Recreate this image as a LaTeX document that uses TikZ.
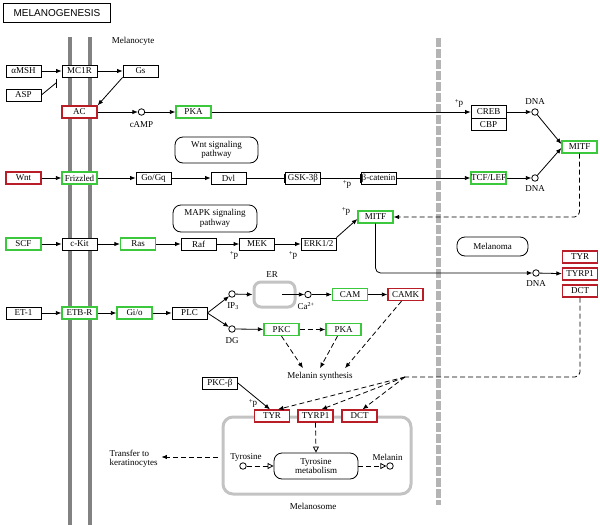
\documentclass[tikz,border=0pt]{standalone}
\usepackage{fontspec}
\setmainfont{Liberation Serif}
\newfontfamily\titlefont{Liberation Sans}
\usetikzlibrary{arrows.meta, positioning}
\definecolor{hitgreen}{RGB}{60,200,60}
\definecolor{hitred}{RGB}{185,30,40}
\definecolor{memgray}{RGB}{130,130,130}
\definecolor{nucgray}{RGB}{180,180,180}
\definecolor{boxgray}{RGB}{195,195,195}
\newcommand{\plusp}{\raisebox{2pt}{\fontsize{7}{7}\selectfont+}p}

\begin{document}
\begin{tikzpicture}[x=1pt, y=-1pt, line width=0.8pt, font=\fontsize{9}{9.5}\selectfont,
  >={Latex[length=5.5pt,width=4.5pt]}]
\tikzset{
  gene/.style={draw, fill=white, minimum width=35pt, minimum height=12pt, inner sep=0pt},
  ggene/.style={gene, draw=hitgreen, line width=1.3pt},
  rgene/.style={gene, draw=hitred, line width=1.3pt},
  pathway/.style={draw, rounded corners=8pt, align=center, inner sep=0pt},
  cpd/.style={circle, draw, fill=white, inner sep=0pt, minimum size=6.5pt},
  dashline/.style={dash pattern=on 5pt off 3pt},
  inhib/.style={-{Bar[width=9pt]}},
  opentip/.style={-{Triangle[open,length=6pt,width=6pt]}}
}

\useasboundingbox (0,0) rectangle (600,525);

\draw[memgray, line width=4pt] (70,37) -- (70,525);
\draw[memgray, line width=4pt] (90,37) -- (90,525);
\draw[nucgray, line width=5pt, dash pattern=on 9pt off 2pt] (438,38) -- (438,505);
\draw[boxgray, line width=3pt, rounded corners=10pt] (223,417) rectangle (411,494);

\node[draw, line width=1.6pt, minimum width=107pt, minimum height=19pt, inner sep=0pt,
  font=\titlefont\fontsize{10}{10}\selectfont] (title) at (57,13) {MELANOGENESIS};
\node (melanocyte) at (133,41) {Melanocyte};

\node[gene] (amsh) at (23.5,71) {αMSH};
\node[gene] (mc1r) at (79.5,71) {MC1R};
\node[gene] (gs) at (140.5,71) {Gs};
\node[gene] (asp) at (23.5,95) {ASP};
\node[rgene] (ac) at (79.5,112) {AC};
\node[cpd] (camp) at (141.5,112) {};
\node (camplbl) at (141.5,125) {cAMP};
\node[ggene] (pka) at (193.5,112) {PKA};
\node[gene, minimum height=12.5pt] (creb) at (488.5,112) {CREB};
\node[gene, minimum height=12.5pt] (cbp) at (488.5,124.5) {CBP};
\node (pcreb) at (459,103) {\plusp};
\node[cpd] (dna1) at (535,112) {};
\node (dna1lbl) at (535,102) {DNA};
\node[ggene] (mitfn) at (579.5,147) {MITF};

\node[pathway, minimum width=83pt, minimum height=26pt] (wntpath) at (216.5,150) {Wnt signaling\\pathway};
\node[rgene] (wnt) at (23.5,178) {Wnt};
\node[ggene] (fzd) at (79.5,178) {Frizzled};
\node[gene] (gogq) at (153.5,178) {Go/Gq};
\node[gene] (dvl) at (228.5,178) {Dvl};
\node[gene] (gsk) at (303,178) {GSK-3β};
\node (pbcat) at (347,184) {\plusp};
\node[gene] (bcat) at (378.5,178) {β-catenin};
\node[ggene] (tcf) at (488.5,178) {TCF/LEF};
\node[cpd] (dna2) at (535,178) {};
\node (dna2lbl) at (535,189) {DNA};

\node[pathway, minimum width=84pt, minimum height=27pt] (mapkpath) at (215,218.5) {MAPK signaling\\pathway};
\node[ggene] (scf) at (23.5,244) {SCF};
\node[gene] (ckit) at (79.5,244) {c-Kit};
\node[ggene] (ras) at (138,244) {Ras};
\node[gene] (raf) at (198.5,244) {Raf};
\node[gene] (mek) at (257,244) {MEK};
\node[gene] (erk) at (318.5,244) {ERK1/2};
\node (pmek) at (234,255) {\plusp};
\node (perk) at (293,255) {\plusp};
\node[ggene] (mitfc) at (375.5,217) {MITF};
\node (pmitf) at (346,211) {\plusp};
\node[pathway, minimum width=71pt, minimum height=19pt] (melanoma) at (492.5,246.5) {Melanoma};
\node[cpd] (dna3) at (536,273) {};
\node (dna3lbl) at (536,284) {DNA};
\node[rgene] (tyrn) at (580,257) {TYR};
\node[rgene] (tyrp1n) at (580,274) {TYRP1};
\node[rgene] (dctn) at (580,291) {DCT};

\node[gene] (et1) at (23.5,313) {ET-1};
\node[ggene] (etbr) at (79.5,313) {ETB-R};
\node[ggene] (gio) at (134.5,313) {Gi/o};
\node[gene] (plc) at (189.5,313) {PLC};
\node[cpd] (ip3) at (232,294) {};
\node (ip3lbl) at (233,306) {IP\textsubscript{3}};
\node[cpd] (dg) at (232,329) {};
\node (dglbl) at (232,341) {DG};
\node[draw=boxgray, line width=3pt, rounded corners=7pt, minimum width=41pt, minimum height=25pt] (er) at (274.5,294.5) {};
\node (erlbl) at (272,275) {ER};
\coordinate (erout) at (282,294.5);
\node[cpd] (ca) at (308,294.5) {};
\node (calbl) at (306,306) {Ca\textsuperscript{2+}};
\node[ggene] (cam) at (350,294.5) {CAM};
\node[rgene] (camk) at (405.5,294.5) {CAMK};
\node[ggene] (pkc) at (281.5,329.5) {PKC};
\node[ggene] (pkab) at (343.5,329.5) {PKA};
\node (msyn) at (320,376) {Melanin synthesis};

\node[gene] (pkcb) at (220,383) {PKC-β};
\node (ptyr) at (253,403) {\plusp};
\node[rgene] (tyr) at (272,416) {TYR};
\node[rgene] (tyrp1) at (315.5,416) {TYRP1};
\node[rgene] (dct) at (359.5,416) {DCT};
\node[pathway, minimum width=84pt, minimum height=26pt] (tymet) at (316,466) {Tyrosine\\metabolism};
\node[cpd] (tyrosine) at (243,466) {};
\node (tyrosinelbl) at (246,457) {Tyrosine};
\node[cpd] (melanin) at (390,466) {};
\node (melaninlbl) at (387.5,457) {Melanin};
\node[align=left, anchor=west] (transfer) at (106,459) {Transfer to\\keratinocytes};
\coordinate (xfer) at (218,457);
\node (melanosome) at (313,506) {Melanosome};

\coordinate (aspbar) at (56,83);
\draw[->] (amsh) -- (mc1r);
\draw (asp.east) -- (aspbar);
\draw ([yshift=4.5pt]aspbar) -- ([yshift=-4.5pt]aspbar);
\draw[->] (mc1r) -- (gs);
\draw[->] (gs.south west) -- (ac.north east);
\draw[->] (ac) -- (camp);
\draw[->] (camp) -- (pka);
\draw[->] (pka) -- (creb);
\draw[->] (creb) -- (dna1);
\draw[->] (dna1) -- ([yshift=3pt]mitfn.west);
\draw[->] (dna2) -- ([yshift=-1pt]mitfn.west);

\draw[->] (wnt) -- (fzd);
\draw[->] (fzd) -- (gogq);
\draw[->] (gogq) -- (dvl);
\draw[inhib] (dvl) -- (gsk);
\draw[inhib] (gsk) -- (bcat);
\draw[->] (bcat) -- (tcf);
\draw[->] (tcf) -- (dna2);

\draw[->] (scf) -- (ckit);
\draw[->] (ckit) -- (ras);
\draw[->] (ras) -- (raf);
\draw[->] (raf) -- (mek);
\draw[->] (mek) -- (erk);
\draw[->] (erk.north east) -- ([yshift=-2pt]mitfc.west);
\draw[->, dashline, rounded corners=5pt] (mitfn.south) |- (mitfc.east);
\draw[->, rounded corners=5pt] (mitfc.south) |- (dna3.west);
\draw[->] (dna3) -- (tyrp1n);

\draw[->] (et1) -- (etbr);
\draw[->] (etbr) -- (gio);
\draw[->] (gio) -- (plc);
\draw[->] (plc.east) -- (ip3);
\draw[->] (plc.east) -- (dg);
\draw[->] (ip3) -- (er.west);
\draw[->] (erout) -- (ca);
\draw[->] (ca) -- (cam);
\draw[->] (cam) -- (camk);
\draw[->] (dg) -- (pkc);
\draw[->, dashline] (pkc) -- (pkab);
\draw[->, dashline] (pkc.south) -- ([xshift=-17pt]msyn.north);
\draw[->, dashline] ([xshift=-6pt]pkab.south) -- (msyn.north);
\draw[->, dashline] ([xshift=-4pt]camk.south) -- ([xshift=25pt]msyn.north);

\coordinate (hub) at (405,377);
\draw[dashline, rounded corners=5pt] (dctn.south) |- (hub);
\draw[->, dashline] (hub) -- ([xshift=6pt]tyr.north);
\draw[->, dashline] (hub) -- ([xshift=6pt]tyrp1.north);
\draw[->, dashline] (hub) -- ([xshift=3pt]dct.north);
\draw[->] (pkcb.east) -- ([xshift=-2pt]tyr.north);
\draw[opentip, dashline] (tyrp1.south) -- (tymet.north);
\draw[opentip, dashline] (tyrosine) -- (tymet.west);
\draw[opentip, dashline] (tymet.east) -- (melanin);
\draw[->, dashline] (xfer) -- (xfer -| transfer.east);
\end{tikzpicture}
\end{document}
